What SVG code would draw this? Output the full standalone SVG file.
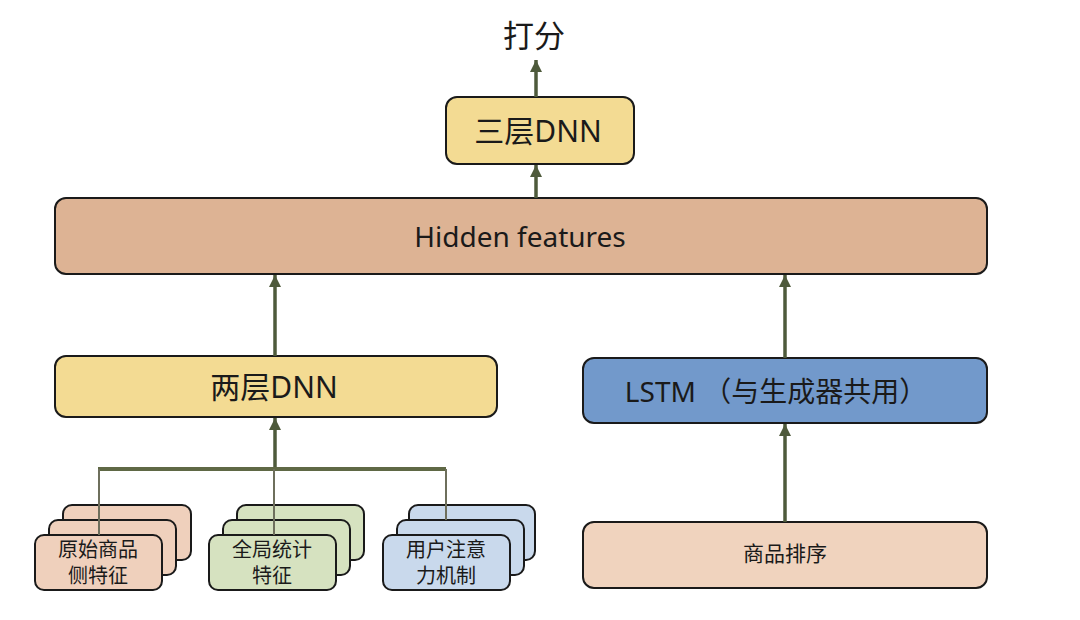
<svg xmlns="http://www.w3.org/2000/svg" width="1080" height="620" viewBox="0 0 1080 620">
<defs>
<style>
.box{stroke:#1a1a1a;stroke-width:2}
.t{font-family:"Noto Sans","Noto Sans CJK SC",sans-serif;fill:#1a1a1a;text-anchor:middle}
.c{font-size:20px}
.arr{stroke:#4e5a3b;stroke-width:3.5;fill:none}
.drop{stroke:#6e6f5c;stroke-width:2;fill:none}
.bus{stroke:#5f6845;stroke-width:4;fill:none}
.yellow{fill:#f3db93}
.tan{fill:#ddb394}
.blue{fill:#7299cb}
.peach{fill:#f0d3be}
.pink{fill:#efd0bc}
.green{fill:#d6e2c0}
.lblue{fill:#c9d9ec}
</style>
<marker id="ah" markerUnits="userSpaceOnUse" markerWidth="12" markerHeight="14" refX="12" refY="6" orient="auto">
<path d="M0,0 L12,6 L0,12 Z" fill="#4e5a3b"/>
</marker>
</defs>
<rect width="1080" height="620" fill="#ffffff"/>

<g id="score">
<text class="t" x="534" y="47" font-size="31">打分</text>
</g>

<g id="dnn3">
<rect class="box yellow" x="446" y="97" width="188" height="67" rx="11"/>
<text class="t" x="538" y="142" font-size="30">三层DNN</text>
</g>

<g id="hidden">
<rect class="box tan" x="55" y="198" width="932" height="76" rx="11"/>
<text class="t" x="520" y="247" font-size="28">Hidden features</text>
</g>

<g id="dnn2">
<rect class="box yellow" x="55" y="356" width="442" height="61" rx="11"/>
<text class="t" x="274" y="398" font-size="30">两层DNN</text>
</g>

<g id="lstm">
<rect class="box blue" x="583" y="358" width="404" height="65" rx="11"/>
<text class="t" x="776" y="402" font-size="28">LSTM （与生成器共用）</text>
</g>

<g id="rank">
<rect class="box peach" x="583" y="522" width="404" height="66" rx="11"/>
<text class="t" x="785" y="561" font-size="21">商品排序</text>
</g>

<g id="feat-item">
<rect class="box pink" x="63" y="505" width="128" height="55" rx="9"/>
<rect class="box pink" x="49" y="520" width="127" height="55" rx="9"/>
<rect class="box pink" x="35" y="535" width="127" height="55" rx="9"/>
<text class="t c" x="98" y="557">原始商品</text>
<text class="t c" x="98" y="583">侧特征</text>
</g>

<g id="feat-global">
<rect class="box green" x="237" y="505" width="127" height="55" rx="9"/>
<rect class="box green" x="223" y="520" width="127" height="55" rx="9"/>
<rect class="box green" x="209" y="535" width="127" height="55" rx="9"/>
<text class="t c" x="272" y="557">全局统计</text>
<text class="t c" x="272" y="583">特征</text>
</g>

<g id="feat-attn">
<rect class="box lblue" x="409" y="505" width="126" height="55" rx="9"/>
<rect class="box lblue" x="397" y="520" width="127" height="55" rx="9"/>
<rect class="box lblue" x="383" y="535" width="127" height="55" rx="9"/>
<text class="t c" x="446" y="557">用户注意</text>
<text class="t c" x="446" y="583">力机制</text>
</g>

<g id="connectors">
<line class="arr" x1="536" y1="97" x2="536" y2="60" marker-end="url(#ah)"/>
<line class="arr" x1="536" y1="198" x2="536" y2="165" marker-end="url(#ah)"/>
<line class="arr" x1="275" y1="356" x2="275" y2="275" marker-end="url(#ah)"/>
<line class="arr" x1="785" y1="358" x2="785" y2="275" marker-end="url(#ah)"/>
<line class="arr" x1="785" y1="522" x2="785" y2="424" marker-end="url(#ah)"/>
<line class="arr" x1="275" y1="469" x2="275" y2="418" marker-end="url(#ah)"/>
<line class="bus" x1="98" y1="469" x2="446" y2="469"/>
<line class="drop" x1="99" y1="469" x2="99" y2="535"/>
<line class="drop" x1="274" y1="469" x2="274" y2="535"/>
<line class="drop" x1="446" y1="469" x2="446" y2="520"/>
</g>
</svg>
